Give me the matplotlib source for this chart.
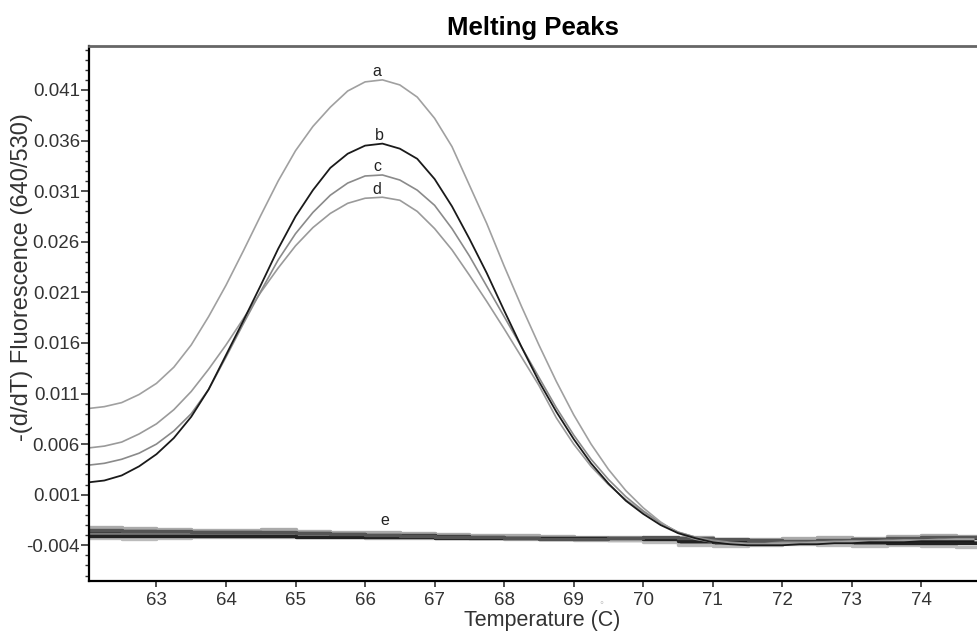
import matplotlib
matplotlib.use("Agg")
import matplotlib.pyplot as plt
from matplotlib.ticker import MultipleLocator, FixedLocator
import numpy as np

plt.rcParams['font.family'] = ['Liberation Sans', 'DejaVu Sans']

# melting peak curves, values in units of 0.001, sampled every 0.25 C
temps = np.arange(62.0, 74.76, 0.25)

curve_a = [9.5, 9.7, 10.1, 10.9, 12.0, 13.6, 15.8, 18.6, 21.7, 25.1, 28.6, 32.0,
           35.0, 37.4, 39.3, 40.9, 41.8, 42.0, 41.5, 40.3, 38.2, 35.4, 31.6, 27.8,
           23.6, 19.6, 15.8, 12.2, 8.9, 6.0, 3.5, 1.4, -0.3, -1.7, -2.8, -3.4,
           -3.7, -3.8, -3.9, -3.9, -3.8, -3.8, -3.7, -3.7, -3.6, -3.6, -3.6, -3.5,
           -3.5, -3.5, -3.4, -3.4]
curve_b = [2.2, 2.4, 2.9, 3.8, 5.0, 6.6, 8.7, 11.4, 14.8, 18.2, 21.7, 25.3,
           28.5, 31.1, 33.3, 34.7, 35.5, 35.7, 35.2, 34.2, 32.2, 29.5, 26.3, 22.9,
           19.2, 15.6, 12.2, 9.2, 6.5, 4.1, 2.1, 0.4, -0.9, -2.0, -2.8, -3.3,
           -3.7, -3.9, -4.0, -4.0, -4.0, -3.9, -3.9, -3.8, -3.8, -3.7, -3.7, -3.7,
           -3.6, -3.6, -3.6, -3.6]
curve_c = [3.9, 4.1, 4.5, 5.1, 6.0, 7.3, 9.0, 11.4, 14.6, 17.9, 21.1, 24.2,
           26.8, 28.9, 30.6, 31.8, 32.5, 32.6, 32.1, 31.1, 29.6, 27.3, 24.6, 21.6,
           18.6, 15.6, 12.6, 9.6, 6.9, 4.5, 2.5, 0.8, -0.6, -1.8, -2.7, -3.2,
           -3.5, -3.7, -3.8, -3.8, -3.7, -3.7, -3.7, -3.6, -3.6, -3.6, -3.5, -3.5,
           -3.5, -3.4, -3.4, -3.4]
curve_d = [5.6, 5.8, 6.2, 7.0, 8.0, 9.4, 11.2, 13.4, 15.8, 18.4, 21.0, 23.4,
           25.6, 27.4, 28.8, 29.8, 30.3, 30.4, 30.1, 29.0, 27.3, 25.2, 22.7, 20.1,
           17.4, 14.6, 11.8, 8.6, 6.0, 3.8, 2.0, 0.5, -0.7, -1.8, -2.7, -3.2,
           -3.6, -3.8, -3.9, -3.9, -3.8, -3.8, -3.8, -3.7, -3.7, -3.7, -3.6, -3.6,
           -3.6, -3.5, -3.5, -3.5]

# negative controls (e), stepped traces every 0.5 C
e_temps = np.arange(62.0, 75.01, 0.5)
e1 = [-2.2, -2.3, -2.4, -2.5, -2.5, -2.4, -2.6, -2.7, -2.7, -2.8, -2.9, -3.0, -3.0, -3.1,
      -3.2, -3.2, -3.3, -3.2, -3.4, -3.4, -3.3, -3.2, -3.3, -3.1, -3.0, -3.1, -3.1]
e2 = [-2.6, -2.6, -2.7, -2.7, -2.7, -2.8, -2.8, -2.9, -3.0, -3.0, -3.1, -3.2, -3.3, -3.3,
      -3.3, -3.4, -3.5, -3.6, -3.6, -3.6, -3.7, -3.6, -3.5, -3.4, -3.3, -3.3, -3.3]
e3 = [-2.9, -2.9, -2.9, -2.9, -2.8, -2.9, -3.0, -3.0, -3.1, -3.1, -3.2, -3.3, -3.3, -3.4,
      -3.4, -3.5, -3.6, -3.8, -3.9, -3.9, -3.8, -3.8, -3.9, -3.9, -3.8, -3.7, -3.7]
e4 = [-3.3, -3.4, -3.3, -3.2, -3.2, -3.2, -3.2, -3.2, -3.3, -3.3, -3.3, -3.3, -3.4, -3.4,
      -3.5, -3.5, -3.7, -4.0, -4.1, -4.0, -3.9, -4.0, -4.1, -4.0, -4.1, -4.2, -4.2]
e5 = [-3.1, -3.1, -3.1, -3.1, -3.1, -3.1, -3.2, -3.2, -3.2, -3.2, -3.3, -3.3, -3.3, -3.3,
      -3.3, -3.3, -3.4, -3.6, -3.7, -3.7, -3.7, -3.6, -3.7, -3.8, -3.8, -3.8, -3.8]
e6 = [-2.5, -2.6, -2.6, -2.7, -2.7, -2.7, -2.8, -2.9, -3.0, -3.1, -3.2, -3.2, -3.3, -3.4,
      -3.4, -3.3, -3.2, -3.3, -3.4, -3.5, -3.6, -3.5, -3.4, -3.3, -3.2, -3.2, -3.2]

ytick_vals = [0.041, 0.036, 0.031, 0.026, 0.021, 0.016, 0.011, 0.006, 0.001, -0.004]
ytick_labels = ["0.041", "0.036", "0.031", "0.026", "0.021", "0.016",
                "0.011", "0.006", "0.001", "-0.004"]

fig = plt.figure(figsize=(9.77, 6.36), dpi=100)
ax = fig.add_axes([0.0911, 0.087, 0.9089, 0.8407])

e_colors = ["#aaaaaa", "#333333", "#777777", "#bbbbbb", "#222222", "#555555"]
for ev, col in zip([e1, e2, e3, e4, e5, e6], e_colors):
    ax.plot(e_temps, np.array(ev) * 1e-3, drawstyle="steps-post", color=col, lw=2.4)

ax.plot(temps, np.array(curve_d) * 1e-3, color="#9a9a9a", lw=1.2)
ax.plot(temps, np.array(curve_c) * 1e-3, color="#8a8a8a", lw=1.2)
ax.plot(temps, np.array(curve_a) * 1e-3, color="#a0a0a0", lw=1.2)
ax.plot(temps, np.array(curve_b) * 1e-3, color="#1a1a1a", lw=1.3)

lbl = dict(fontsize=11.5, ha="center", va="bottom", color="#222222")
ax.text(66.17, 0.0421, "a", **lbl)
ax.text(66.2, 0.0358, "b", **lbl)
ax.text(66.17, 0.0327, "c", **lbl)
ax.text(66.17, 0.0304, "d", **lbl)
ax.text(66.28, -0.0023, "e", **lbl)

ax.set_xlim(62.03, 74.8)
ax.set_ylim(-0.0075, 0.04535)
ax.xaxis.set_major_locator(FixedLocator(range(63, 75)))
ax.yaxis.set_major_locator(FixedLocator(ytick_vals))
ax.yaxis.set_minor_locator(MultipleLocator(0.001))
ax.set_yticklabels(ytick_labels)
ax.tick_params(axis="both", which="major", labelsize=13.5, width=1.2,
               color="#333333", labelcolor="#333333")
ax.tick_params(axis="y", which="major", length=6, pad=0.5)
ax.tick_params(axis="x", which="major", length=4, pad=4)
ax.tick_params(axis="y", which="minor", length=3, width=1.0, color="#333333")
ax.spines["right"].set_visible(False)
ax.spines["left"].set_linewidth(1.6)
ax.spines["bottom"].set_linewidth(1.6)
ax.spines["top"].set_linewidth(2.0)
ax.spines["top"].set_color("#666666")

ax.set_xlabel("Temperature (C)", fontsize=15.5, color="#333333")
ax.xaxis.set_label_coords(0.5107, -0.0548)
ax.set_ylabel("-(d/dT) Fluorescence (640/530)", fontsize=17, color="#333333")
ax.yaxis.set_label_coords(-0.063, 0.567)
ax.set_title("Melting Peaks", fontsize=18.5, fontweight="bold", pad=8)
fig.text(0.616, 1 - 605 / 636, "°", color="#c0c0c0", fontsize=7, ha="center", va="center")

fig.savefig("out.png", dpi=100)
